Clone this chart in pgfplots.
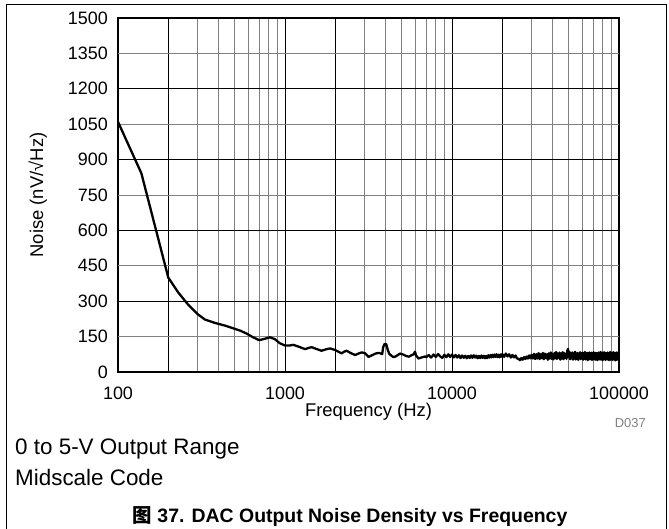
\documentclass[border=0pt]{standalone}
\usepackage{fontspec}
\setmainfont{Liberation Sans}
\newfontfamily\cjk{Noto Sans CJK SC}
\usepackage{pgfplots}
\pgfplotsset{compat=1.18}
\definecolor{gridgray}{HTML}{808080}
\begin{document}
\begin{tikzpicture}[x=1bp,y=1bp]
\useasboundingbox (0,0) rectangle (669,529);
% outer frame
\draw[line width=1bp] (6,0) -- (6,524) -- (666,524) -- (666,0);
\begin{axis}[
    xmode=log,
    scale only axis,
    width=501bp, height=354bp,
    at={(118bp,157bp)}, anchor=south west,
    xmin=100, xmax=100000, ymin=0, ymax=1500,
    axis line style={line width=2.5bp},
    major tick length=0pt, minor tick length=0pt,
    xtick={100,1000,10000,100000},
    xticklabels={100,1000,10000,100000},
    minor xtick={300,400,500,600,700,800,900,3000,4000,5000,6000,7000,8000,9000,30000,40000,50000,60000,70000,80000,90000},
    extra x ticks={200,2000,20000},
    extra x tick labels={},
    extra x tick style={grid=major},
    ytick={0,300,600,900,1200,1500},
    yticklabels={0,300,600,900,1200,1500},
    extra y ticks={150,450,750,1050,1350},
    extra y tick labels={150,450,750,1050,1350},
    extra y tick style={major grid style={gridgray, line width=0.9bp}},
    xmajorgrids, xminorgrids, ymajorgrids,
    major grid style={black, line width=0.9bp},
    minor grid style={gridgray, line width=0.9bp},
    tick label style={font=\fontsize{18}{21}\selectfont},
    xticklabel style={anchor=center, inner sep=0pt, yshift=-21bp},
    yticklabel style={anchor=east, inner sep=0pt, xshift=-10bp},
    xlabel={Frequency (Hz)},
    ylabel={Noise (nV/√Hz)},
    label style={font=\fontsize{18.5}{22}\selectfont},
    xlabel style={at={(axis description cs:0.5,-0.113)}, anchor=center, inner sep=0pt},
    ylabel style={at={(axis description cs:-0.16,0.5)}, anchor=center, inner sep=0pt},
]
\addplot[black, line width=2.3bp, line join=round, no marks] coordinates {
(100,1060) (138,842) (200,400) (230,336) (264,284) (300,245) (332,222)
(380,208) (440,196) (490,185) (540,175) (588,163) (640,148) (700,135)
(750,140) (813,147) (870,139) (930,122) (1000,112) (1060,112) (1120,115)
(1200,108) (1318,97) (1400,103) (1446,105) (1550,97) (1655,90) (1760,96)
(1860,100) (2000,93) (2180,79) (2260,86) (2340,90) (2480,80) (2630,72)
(2750,78) (2880,83) (3010,80) (3160,64) (3300,70) (3480,78) (3650,81)
(3820,76) (3870,105) (3950,119) (4040,117) (4120,95) (4200,78) (4350,68)
(4470,63) (4600,66) (4880,78) (5100,74) (5300,68) (5520,65) (5750,72)
(5900,75) (6000,86) (6100,70) (6300,57) (6600,62) (6900,66)
(7000,62) (7250,72) (7500,61) (7750,74) (8000,64) (8250,76) (8500,66)
(8750,60) (9000,73) (9250,63) (9500,75) (9750,64) (10000,74) (10250,62)
(10500,72) (10750,61) (11000,71) (11250,59) (11500,70) (11750,60)
(12000,69) (12250,58) (12500,68) (12750,59) (13000,70) (13250,60)
(13500,71) (13750,61) (14000,69) (14250,58) (14500,68) (14750,59)
(15000,70) (15250,60) (15500,69) (15750,58) (16000,68) (16250,59)
(16500,71) (16750,61) (17000,72) (17250,62) (17500,73) (17750,63)
(18000,74) (18250,64) (18500,75) (18750,63) (19000,73) (19250,62)
(19500,74) (19750,65) (20000,76)
(20500,64) (21000,78) (21500,66) (22000,75) (22500,61) (23000,72)
(23500,62) (24000,70) (24500,57) (25000,56) (25500,50) (26000,59)
(26500,52) (27000,63) (27500,55) (28000,66) (28500,57) (29000,70)
(29500,58) (30000,73) (30500,57) (31000,77) (31500,55) (32000,75)
(32500,57) (33000,80) (33500,55) (34000,76) (34500,58) (35000,81)
(35500,54) (36000,78) (36500,59) (37000,75) (37500,52) (38000,79)
(38500,57) (39000,83) (39500,56) (40000,77) (40500,53) (41000,80)
(41500,58) (42000,85) (42500,55) (43000,78) (43500,60) (44000,82)
(44500,52) (45000,79) (45500,57) (46000,84) (46500,54) (47000,80)
(47500,59) (48000,77) (48500,56) (49000,89) (49500,98) (50000,64)
(50500,85) (51000,54) (51500,80) (52000,58) (52500,83) (53000,52)
(53500,78) (54000,59) (54500,86) (55000,53) (55500,79) (56000,56)
(56500,81) (57000,51) (57500,77) (58000,58) (58500,84) (59000,54)
(59500,80) (60000,57) (60500,82) (61000,52) (61500,79) (62000,59)
(62500,85) (63000,53) (63500,78) (64000,55) (64500,81) (65000,50)
(65500,80) (66000,58) (66500,83) (67000,53) (67500,77) (68000,56)
(68500,82) (69000,51) (69500,79) (70000,57) (70500,84) (71000,54)
(71500,78) (72000,52) (72500,81) (73000,58) (73500,80) (74000,50)
(74500,77) (75000,56) (75500,83) (76000,53) (76500,79) (77000,55)
(77500,85) (78000,52) (78500,78) (79000,57) (79500,82) (80000,50)
(80500,80) (81000,58) (81500,84) (82000,54) (82500,77) (83000,51)
(83500,81) (84000,56) (84500,79) (85000,53) (85500,83) (86000,55)
(86500,78) (87000,50) (87500,80) (88000,57) (88500,85) (89000,52)
(89500,79) (90000,54) (90500,82) (91000,51) (91500,78) (92000,58)
(92500,84) (93000,53) (93500,80) (94000,55) (94500,81) (95000,49)
(95500,79) (96000,57) (96500,83) (97000,52) (97500,78) (98000,56)
(98500,82) (99000,51) (99500,80) (100000,60)
};
\end{axis}
\node[anchor=base east, inner sep=0pt, text=gray, font=\fontsize{13}{15}\selectfont] at (646,101) {D037};
\node[anchor=base west, inner sep=0pt, font=\fontsize{22.5}{26}\selectfont] at (15,74) {0 to 5-V Output Range};
\node[anchor=base west, inner sep=0pt, font=\fontsize{22.5}{26}\selectfont] at (15,43) {Midscale Code};
\node[anchor=base, inner sep=0pt, font=\bfseries\fontsize{19.5}{22}\selectfont] at (350,6) {{\cjk 图} 37. DAC Output Noise Density vs Frequency};
\end{tikzpicture}
\end{document}
